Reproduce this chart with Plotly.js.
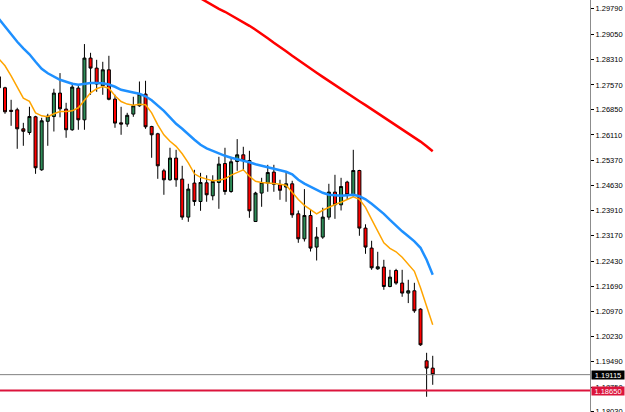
<!DOCTYPE html>
<html>
<head>
<meta charset="utf-8">
<script src="https://cdn.plot.ly/plotly-3.0.1.min.js"></script>
<style>html,body{margin:0;padding:0;background:#fff;}#chart{width:625px;height:412px;}</style>
</head>
<body>
<div id="chart"></div>
<script>
// Bar indices (one per candle, left to right)
const barIndex = Array.from({length: 72}, (_, i) => i);

const openPrices = [
1.27806,1.27486,1.26828,1.26843,1.26288,1.26181,1.26639,1.25092,1.26507,1.26647,
1.27331,1.26863,1.26260,1.27477,1.26551,1.28352,1.28060,1.27544,1.28010,1.27155,
1.26463,1.26426,1.26718,1.26960,1.27302,1.26355,1.26143,1.25063,1.24801,1.25434,
1.24821,1.23712,1.24705,1.24167,1.24713,1.24334,1.24722,1.25276,1.24459,1.25334,
1.25530,1.25364,1.23583,1.24413,1.24705,1.25025,1.24655,1.24588,1.24684,1.23808,
1.23079,1.23759,1.22837,1.23129,1.23712,1.24442,1.24071,1.24734,1.24363,1.25072,
1.23391,1.22808,1.22203,1.22253,1.21687,1.22154,1.21787,1.21495,1.21562,1.21027,
1.19519,1.19306];

const highPrices = [
1.27835,1.27515,1.27135,1.26902,1.26463,1.26931,1.26668,1.26610,1.26726,1.27456,
1.27914,1.27047,1.27631,1.27573,1.28761,1.28506,1.28302,1.28244,1.28419,1.27281,
1.26931,1.26755,1.27223,1.27669,1.27690,1.26376,1.26172,1.25121,1.25735,1.25676,
1.25209,1.24684,1.25092,1.25004,1.24932,1.24932,1.25472,1.25735,1.25472,1.25988,
1.25764,1.25647,1.24451,1.24859,1.25238,1.25238,1.24801,1.25034,1.24772,1.23905,
1.24529,1.23925,1.23420,1.23984,1.24684,1.24946,1.24859,1.24772,1.25676,1.25092,
1.23502,1.23021,1.22700,1.22466,1.22174,1.22203,1.22174,1.21883,1.21795,1.21051,
1.19752,1.19665];

const lowPrices = [
1.27456,1.26726,1.26376,1.25705,1.25793,1.26114,1.24975,1.25063,1.25793,1.26210,
1.26624,1.26027,1.26231,1.26260,1.26260,1.27281,1.27369,1.27281,1.27120,1.26318,
1.26114,1.26347,1.26639,1.26931,1.26288,1.25443,1.24829,1.24363,1.24772,1.24597,
1.23633,1.23575,1.24042,1.23896,1.24159,1.24202,1.23954,1.24363,1.24421,1.25063,
1.25063,1.23692,1.23575,1.24013,1.24451,1.24451,1.24217,1.24159,1.23692,1.22962,
1.23000,1.22708,1.22446,1.23079,1.23633,1.23662,1.23905,1.24217,1.24305,1.23167,
1.22641,1.22174,1.22174,1.21591,1.21664,1.21737,1.21387,1.21203,1.20919,1.19957,
1.18469,1.18819];

const closePrices = [
1.27486,1.26785,1.26799,1.26288,1.26216,1.26647,1.25151,1.26522,1.26659,1.27331,
1.26872,1.26260,1.27506,1.26551,1.28352,1.28060,1.27594,1.28010,1.27150,1.26455,
1.26426,1.26683,1.26960,1.27302,1.26347,1.26114,1.25209,1.24801,1.25434,1.24801,
1.23712,1.24529,1.24167,1.24722,1.24363,1.24751,1.25259,1.24459,1.25326,1.25530,
1.25364,1.23896,1.24413,1.24722,1.25013,1.24670,1.24494,1.24684,1.23779,1.23079,
1.23759,1.22808,1.23129,1.23712,1.24442,1.24071,1.24605,1.24363,1.25072,1.23391,
1.22837,1.22233,1.22262,1.21687,1.21961,1.21787,1.21495,1.21562,1.20978,1.19986,
1.19306,1.19115];

// Moving averages
const maFast = [
1.28331,1.28127,1.27835,1.27500,1.27185,1.27091,1.26755,1.26668,1.26639,1.26726,
1.26793,1.26793,1.26814,1.26902,1.27120,1.27340,1.27456,1.27521,1.27471,1.27252,
1.27085,1.27010,1.26975,1.27004,1.26989,1.26755,1.26405,1.26114,1.25924,1.25778,
1.25559,1.25296,1.24975,1.24873,1.24821,1.24772,1.24786,1.24830,1.24938,1.25019,
1.25092,1.24902,1.24757,1.24725,1.24719,1.24696,1.24670,1.24640,1.24436,1.24226,
1.24056,1.23925,1.23808,1.23911,1.23998,1.24080,1.24144,1.24217,1.24305,1.24232,
1.23998,1.23648,1.23283,1.22962,1.22802,1.22700,1.22539,1.22349,1.22130,1.21649,
1.21138,1.20569];

const maMid = [
1.29499,1.29265,1.29032,1.28828,1.28638,1.28463,1.28244,1.28039,1.27908,1.27806,
1.27719,1.27661,1.27602,1.27573,1.27602,1.27623,1.27623,1.27617,1.27579,1.27515,
1.27427,1.27377,1.27348,1.27310,1.27237,1.27120,1.26960,1.26814,1.26624,1.26434,
1.26288,1.26114,1.25968,1.25822,1.25720,1.25647,1.25568,1.25501,1.25443,1.25399,
1.25370,1.25311,1.25253,1.25209,1.25165,1.25121,1.25084,1.25034,1.24961,1.24801,
1.24690,1.24597,1.24509,1.24421,1.24363,1.24348,1.24334,1.24348,1.24363,1.24319,
1.24232,1.24100,1.23954,1.23808,1.23633,1.23458,1.23298,1.23152,1.23006,1.22817,
1.22466,1.22028];

const maSlow = [
null,null,null,null,null,null,null,null,null,null,
null,null,null,null,null,null,null,null,null,null,
null,null,null,null,null,null,null,null,null,null,
null,null,1.30199,1.30097,1.29980,1.29878,1.29790,1.29703,1.29601,1.29513,
1.29411,1.29294,1.29178,1.29061,1.28930,1.28798,1.28682,1.28550,1.28419,1.28302,
1.28177,1.28051,1.27925,1.27803,1.27681,1.27559,1.27439,1.27322,1.27208,1.27094,
1.26980,1.26863,1.26750,1.26633,1.26516,1.26396,1.26277,1.26157,1.26038,1.25915,
1.25778,1.25632];

const tickValues = [1.29790,1.29050,1.28310,1.27570,1.26850,1.26110,1.25370,1.24630,
  1.23910,1.23170,1.22430,1.21690,1.20970,1.20230,1.19490,1.18750,1.18030];
const tickLabels = ["1.29790","1.29050","1.28310","1.27570","1.26850","1.26110","1.25370","1.24630",
  "1.23910","1.23170","1.22430","1.21690","1.20970","1.20230","1.19490","1.18750","1.18030"];

const bidPrice = 1.19115;
const askPrice = 1.18650;

const traces = [
  {
    type: 'candlestick',
    x: barIndex, open: openPrices, high: highPrices, low: lowPrices, close: closePrices,
    increasing: {fillcolor: '#2e8b57', line: {color: '#000000', width: 1}},
    decreasing: {fillcolor: '#ff0000', line: {color: '#000000', width: 1}},
    whiskerwidth: 0,
    hoverinfo: 'skip'
  },
  {type: 'scatter', mode: 'lines', x: barIndex, y: maFast, line: {color: '#ffa500', width: 1.5}, hoverinfo: 'skip'},
  {type: 'scatter', mode: 'lines', x: barIndex, y: maMid, line: {color: '#1e90ff', width: 2.5}, hoverinfo: 'skip'},
  {type: 'scatter', mode: 'lines', x: barIndex, y: maSlow, line: {color: '#ff0000', width: 2.5}, hoverinfo: 'skip', connectgaps: false}
];

const tagFont = {family: 'Liberation Sans, Arial, sans-serif', size: 7.5, color: '#ffffff'};

const layout = {
  width: 625, height: 412,
  margin: {l: 0, r: 35, t: 0, b: 0, pad: 0},
  paper_bgcolor: '#ffffff', plot_bgcolor: '#ffffff',
  showlegend: false,
  xaxis: {
    range: [0.18, 96.74], showgrid: false, zeroline: false, showticklabels: false,
    showline: false, ticks: '', rangeslider: {visible: false}, fixedrange: true
  },
  yaxis: {
    side: 'right', range: [1.18025, 1.30047],
    tickmode: 'array', tickvals: tickValues, ticktext: tickLabels,
    ticklabeloverflow: 'allow',
    showgrid: false, zeroline: false,
    showline: true, linecolor: '#8c8c8c', linewidth: 1,
    ticks: 'outside', ticklen: 3, tickwidth: 1, tickcolor: '#000000',
    tickfont: {family: 'Liberation Sans, Arial, sans-serif', size: 7.5, color: '#000000'},
    fixedrange: true
  },
  shapes: [
    {type: 'line', xref: 'paper', x0: 0, x1: 1, yref: 'y', y0: bidPrice, y1: bidPrice,
     line: {color: '#808080', width: 1}},
    {type: 'line', xref: 'paper', x0: 0, x1: 1, yref: 'y', y0: askPrice, y1: askPrice,
     line: {color: '#dc143c', width: 2}}
  ],
  annotations: [
    {xref: 'paper', x: 1, xanchor: 'left', xshift: 1, yref: 'y', y: bidPrice, yanchor: 'middle',
     text: bidPrice.toFixed(5), showarrow: false, bgcolor: '#000000', font: tagFont,
     width: 32, height: 8, borderpad: 0},
    {xref: 'paper', x: 1, xanchor: 'left', xshift: 1, yref: 'y', y: askPrice, yanchor: 'middle',
     text: askPrice.toFixed(5), showarrow: false, bgcolor: '#dc143c', font: tagFont,
     width: 32, height: 8, borderpad: 0}
  ]
};

Plotly.newPlot('chart', traces, layout, {displayModeBar: false, staticPlot: true});
</script>
</body>
</html>
